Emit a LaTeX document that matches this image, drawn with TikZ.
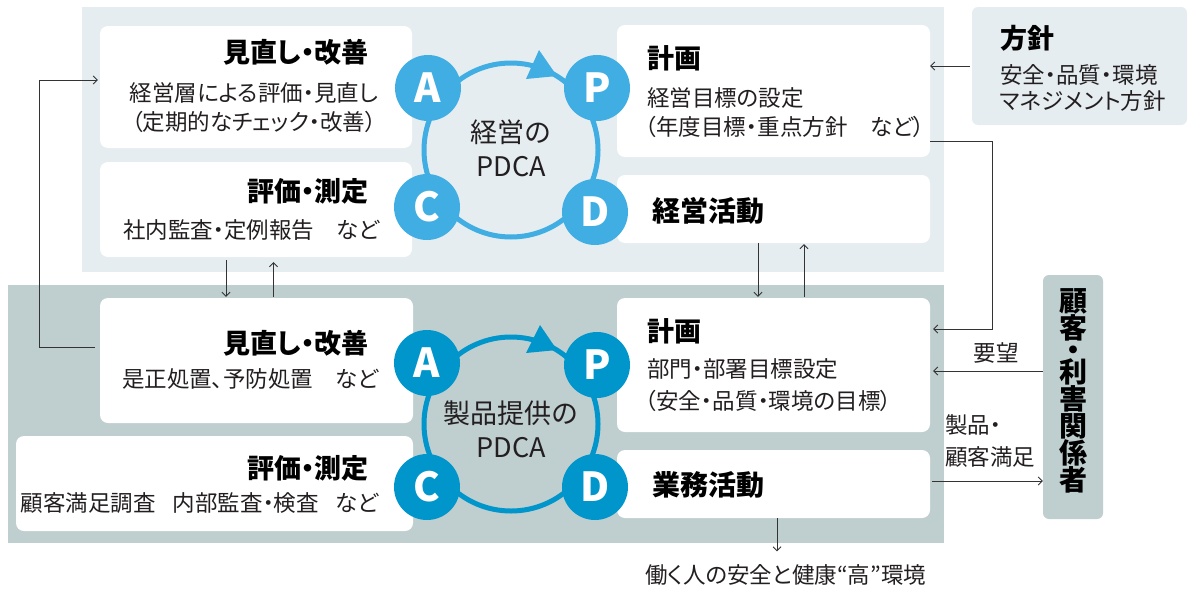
\documentclass[tikz,border=0pt]{standalone}
\usepackage{fontspec}
\setmainfont{Noto Sans CJK JP}[RawFeature=+palt]
\usetikzlibrary{arrows.meta}
\definecolor{toppanel}{HTML}{E5EDF1}
\definecolor{botpanel}{HTML}{BFCECF}
\definecolor{topblue}{HTML}{40AEE3}
\definecolor{botblue}{HTML}{0096CB}
\definecolor{linec}{HTML}{333333}
\definecolor{txt}{HTML}{231F20}
\begin{document}
\begin{tikzpicture}[x=1pt,y=-1pt,
  wbox/.style={fill=white, rounded corners=8pt, inner sep=0pt},
  pbox/.style={rounded corners=6pt, inner sep=0pt},
  ttl/.style={inner sep=0pt, text=black, font=\bfseries\fontsize{27}{27}\selectfont},
  big/.style={inner sep=0pt, text=black, font=\bfseries\fontsize{28}{28}\selectfont},
  body/.style={inner sep=0pt, text=txt, font=\fontsize{22.5}{22.5}\selectfont},
  ctr/.style={inner sep=0pt, text=txt, align=center, font=\fontsize{27}{34}\selectfont},
  dot/.style={circle, inner sep=0pt, minimum size=66pt, text=white, font=\bfseries\fontsize{40}{40}\selectfont},
  conn/.style={draw=linec, line width=0.9pt, -{Straight Barb[length=4pt,width=8pt]}}
]
\useasboundingbox (0,0) rectangle (1198,589);
% panels
\fill[toppanel] (82,7) rectangle (944,272);
\fill[botpanel] (8,285) rectangle (944,543);

% top boxes
\node[wbox, minimum width=312pt, minimum height=122pt] (tA) at (256,87) {};
\node[wbox, minimum width=312pt, minimum height=95pt] (tC) at (256,209.5) {};
\node[wbox, minimum width=313pt, minimum height=132pt] (tP) at (773.5,91) {};
\node[wbox, minimum width=313pt, minimum height=68pt] (tD) at (773.5,209) {};
% bottom boxes
\node[wbox, minimum width=313pt, minimum height=125pt] (bA) at (256.5,360.5) {};
\node[wbox, minimum width=397pt, minimum height=95pt] (bC) at (214.5,483.5) {};
\node[wbox, minimum width=313pt, minimum height=134pt] (bP) at (773.5,365) {};
\node[wbox, minimum width=313pt, minimum height=68pt] (bD) at (773.5,484) {};
% side boxes
\node[pbox, fill=toppanel, minimum width=215pt, minimum height=118pt] (policy) at (1079.5,66) {};
\node[pbox, fill=botpanel, minimum width=60pt, minimum height=244pt] (cust) at (1073,397) {};

% texts top A
\node[ttl, anchor=east] (tAt) at (369,52) {見直し・改善};
\node[body] (tA1) at (254,93) {経営層による評価・見直し};
\node[body] (tA2) at (254,122) {（定期的なチェック・改善）};
% top C
\node[ttl, anchor=east] (tCt) at (369,191) {評価・測定};
\node[body, anchor=east] (tC1) at (380,230) {社内監査・定例報告　など};
% bottom A
\node[ttl, anchor=east] (bAt) at (369,343) {見直し・改善};
\node[body, anchor=east] (bA1) at (379,379) {是正処置、予防処置　など};
% bottom C
\node[ttl, anchor=east] (bCt) at (369,468) {評価・測定};
\node[body, anchor=east] (bC1) at (379,503) {顧客満足調査\hspace{0.75em}内部監査・検査\hspace{0.75em}など};
% top P
\node[ttl, anchor=west] (tPt) at (647,58) {計画};
\node[body, anchor=west] (tP1) at (647,98) {経営目標の設定};
\node[body, anchor=west] (tP2) at (645,127) {（年度目標・重点方針　など）};
\node[big, anchor=west] (tDt) at (652,211) {経営活動};
% bottom P
\node[ttl, anchor=west] (bPt) at (647,331) {計画};
\node[body, anchor=west] (bP1) at (647,369) {部門・部署目標設定};
\node[body, anchor=west] (bP2) at (645,401) {（安全・品質・環境の目標）};
\node[big, anchor=west] (bDt) at (652,485) {業務活動};
% policy
\node[ttl, anchor=west] (polt) at (1000,38) {方針};
\node[body, anchor=west] (pol1) at (1000,75) {安全・品質・環境};
\node[body, anchor=west] (pol2) at (1000,101) {マネジメント方針};
% customer
\node[inner sep=0pt, align=center, text=black, font=\bfseries\fontsize{28}{27}\selectfont] (custt) at (1073,391)
  {顧\\客\\[-5pt]・\\[-5pt]利\\害\\関\\係\\者};
% labels
\node[body] (req) at (996,353) {要望};
\node[body, anchor=west] (prod1) at (945,425) {製品・};
\node[body, anchor=west] (prod2) at (945,457) {顧客満足};
\node[body, anchor=west] (env) at (645,575) {働く人の安全と健康“高”環境};

% top PDCA
\draw[topblue, line width=5pt] (511,150) circle[radius=87];
\fill[topblue] (539,50) -- (526,79) -- (557,76) -- cycle;
\node[dot, fill=topblue] (tAc) at (428,88) {A};
\node[dot, fill=topblue] (tPc) at (597,88) {P};
\node[dot, fill=topblue] (tCc) at (427,207) {C};
\node[dot, fill=topblue] (tDc) at (595,212) {D};
\node[ctr] (tmid) at (511,148) {経営の\\PDCA};
% bottom PDCA
\draw[botblue, line width=5pt] (511,424) circle[radius=87];
\fill[botblue] (540,325) -- (526,353) -- (557,350) -- cycle;
\node[dot, fill=botblue] (bAc) at (427,363) {A};
\node[dot, fill=botblue] (bPc) at (597,365) {P};
\node[dot, fill=botblue] (bCc) at (427,487) {C};
\node[dot, fill=botblue] (bDc) at (595,487) {D};
\node[ctr] (bmid) at (511,429) {製品提供の\\PDCA};

% connectors
\draw[conn, shorten >=2pt] ([xshift=-2pt]policy.west) -- ([xshift=-2pt]policy.west -| tP.east);
\draw[conn, shorten >=3pt] ([yshift=-50pt]tP.east) -- ++(62,0) |- ([yshift=36pt]bP.east);
\draw[conn, shorten >=3pt] ([yshift=26pt]cust.west) -- ([yshift=26pt]cust.west -| bP.east);
\draw[conn, shorten <=2pt] ([yshift=3pt]bD.east) -- ([yshift=3pt]bD.east -| cust.west);
\draw[conn, shorten >=2pt] ([xshift=-5pt,yshift=13.5pt]bA.west) -- ++(-55,0) |- ([yshift=7pt]tA.west);
\draw[conn, shorten <=3pt, shorten >=1pt] ([xshift=-30pt]tC.south) -- ([xshift=-30pt]tC.south |- bA.north);
\draw[conn, shorten <=1pt, shorten >=5pt] ([xshift=17pt]bA.north) -- ([xshift=17pt]bA.north |- tC.south);
\draw[conn, shorten >=1pt] ([xshift=-15.5pt]tD.south) -- ([xshift=-15.5pt]tD.south |- bP.north);
\draw[conn, shorten <=1pt, shorten >=1pt] ([xshift=30.5pt]bP.north) -- ([xshift=30.5pt]bP.north |- tD.south);
\draw[conn, shorten >=13pt] ([xshift=3.5pt]bD.south) -- ([xshift=3.5pt]bD.south |- env.north);
\end{tikzpicture}
\end{document}
